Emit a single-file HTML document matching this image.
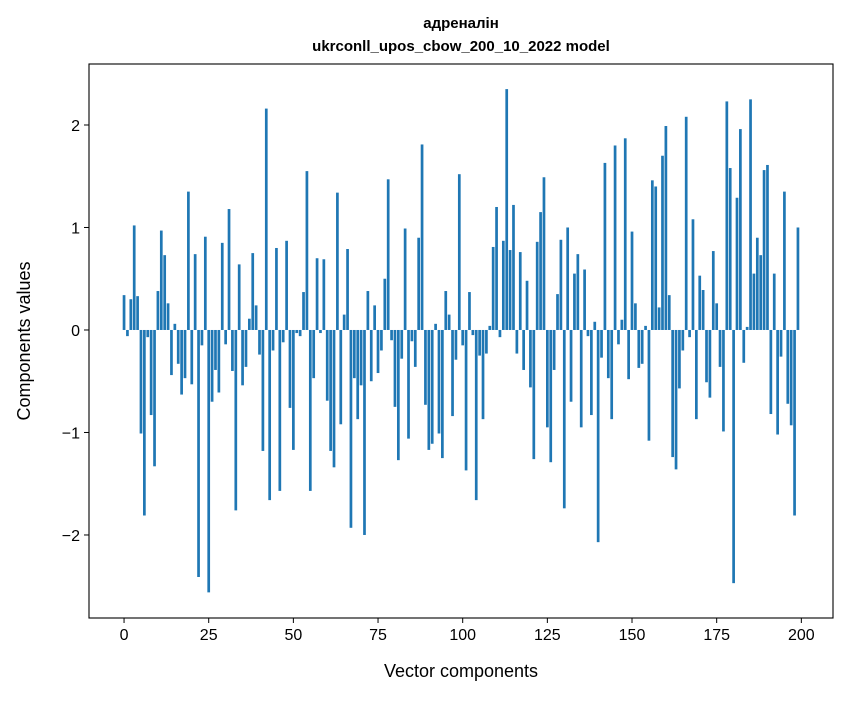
<!DOCTYPE html>
<html><head><meta charset="utf-8"><style>
body{margin:0;background:#fff;font-family:"Liberation Sans","DejaVu Sans",sans-serif}
svg text{font-family:"Liberation Sans","DejaVu Sans",sans-serif}
</style></head><body>
<svg id="chart" width="847" height="696" xmlns="http://www.w3.org/2000/svg">
<rect width="847" height="696" fill="#fff"/>
<text x="461" y="28" text-anchor="middle" font-size="15" font-weight="bold">адреналін</text>
<text x="461" y="51" text-anchor="middle" font-size="15" font-weight="bold">ukrconll_upos_cbow_200_10_2022 model</text>
<g id="bars"></g>
<g id="axes"></g>
<text x="461" y="677" text-anchor="middle" font-size="18">Vector components</text>
<text transform="translate(30,341) rotate(-90)" text-anchor="middle" font-size="18">Components values</text>
</svg>
<script>
const values = [0.34,-0.06,0.30,1.02,0.33,-1.01,-1.81,-0.07,-0.83,-1.33,
0.38,0.97,0.73,0.26,-0.44,0.06,-0.33,-0.63,-0.47,1.35,
-0.53,0.74,-2.41,-0.15,0.91,-2.56,-0.70,-0.39,-0.61,0.85,
-0.14,1.18,-0.40,-1.76,0.64,-0.54,-0.36,0.11,0.75,0.24,
-0.24,-1.18,2.16,-1.66,-0.20,0.80,-1.57,-0.12,0.87,-0.76,
-1.17,-0.03,-0.06,0.37,1.55,-1.57,-0.47,0.70,-0.03,0.69,
-0.69,-1.18,-1.34,1.34,-0.92,0.15,0.79,-1.93,-0.47,-0.87,
-0.54,-2.00,0.38,-0.50,0.24,-0.42,-0.20,0.50,1.47,-0.10,
-0.75,-1.27,-0.28,0.99,-1.06,-0.11,-0.36,0.90,1.81,-0.73,
-1.17,-1.11,0.06,-1.01,-1.25,0.38,0.15,-0.84,-0.29,1.52,
-0.15,-1.37,0.37,-0.05,-1.66,-0.25,-0.87,-0.23,0.04,0.81,
1.20,-0.07,0.87,2.35,0.78,1.22,-0.23,0.76,-0.39,0.48,
-0.56,-1.26,0.86,1.15,1.49,-0.95,-1.29,-0.39,0.35,0.88,
-1.74,1.00,-0.70,0.55,0.74,-0.95,0.59,-0.06,-0.83,0.08,
-2.07,-0.27,1.63,-0.47,-0.87,1.80,-0.14,0.10,1.87,-0.48,
0.96,0.26,-0.37,-0.33,0.04,-1.08,1.46,1.40,0.22,1.70,
1.99,0.34,-1.24,-1.36,-0.57,-0.20,2.08,-0.07,1.08,-0.87,
0.53,0.39,-0.51,-0.66,0.77,0.26,-0.36,-0.99,2.23,1.58,
-2.47,1.29,1.96,-0.32,0.03,2.25,0.55,0.90,0.73,1.56,
1.61,-0.82,0.55,-1.02,-0.26,1.35,-0.72,-0.93,-1.81,1.00];
const xTicks = [0,25,50,75,100,125,150,175,200];
const yTicks = [-2,-1,0,1,2];
const X0=89,X1=833,Y0=64,Y1=618;
const xMin=-10.35,xMax=209.35,yMin=-2.81,yMax=2.595;
const sx=v=>X0+(v-xMin)/(xMax-xMin)*(X1-X0);
const sy=v=>Y1-(v-yMin)/(yMax-yMin)*(Y1-Y0);
const NS="http://www.w3.org/2000/svg";
const bars=document.getElementById('bars');
values.forEach((v,i)=>{
  const r=document.createElementNS(NS,'rect');
  const x0=sx(i-0.4),x1=sx(i+0.4);
  r.setAttribute('x',x0);r.setAttribute('width',x1-x0);
  r.setAttribute('y',Math.min(sy(v),sy(0)));r.setAttribute('height',Math.abs(sy(v)-sy(0)));
  r.setAttribute('fill','#1f77b4');
  
  
  bars.appendChild(r);
});
const axes=document.getElementById('axes');
const frame=document.createElementNS(NS,'rect');
frame.setAttribute('x',X0);frame.setAttribute('y',Y0);frame.setAttribute('width',X1-X0);frame.setAttribute('height',Y1-Y0);
frame.setAttribute('fill','none');frame.setAttribute('stroke','#000');frame.setAttribute('stroke-width','1.1');


axes.appendChild(frame);
xTicks.forEach(t=>{
  const x=sx(t);
  const l=document.createElementNS(NS,'line');
  l.setAttribute('x1',x);l.setAttribute('x2',x);l.setAttribute('y1',Y1);l.setAttribute('y2',Y1+5);l.setAttribute('stroke','#000');
  
  
  axes.appendChild(l);
  const tx=document.createElementNS(NS,'text');
  tx.setAttribute('x',x);tx.setAttribute('y',Y1+22);tx.setAttribute('text-anchor','middle');tx.setAttribute('font-size','16');
  tx.textContent=t;
  
  
  axes.appendChild(tx);
});
yTicks.forEach(t=>{
  const y=sy(t);
  const l=document.createElementNS(NS,'line');
  l.setAttribute('x1',X0-5);l.setAttribute('x2',X0);l.setAttribute('y1',y);l.setAttribute('y2',y);l.setAttribute('stroke','#000');
  
  
  axes.appendChild(l);
  const tx=document.createElementNS(NS,'text');
  tx.setAttribute('x',X0-9);tx.setAttribute('y',y+6);tx.setAttribute('text-anchor','end');tx.setAttribute('font-size','16');
  tx.textContent=t<0?'\u2212'+Math.abs(t):t;
  
  
  axes.appendChild(tx);
});
</script>
</body></html>
